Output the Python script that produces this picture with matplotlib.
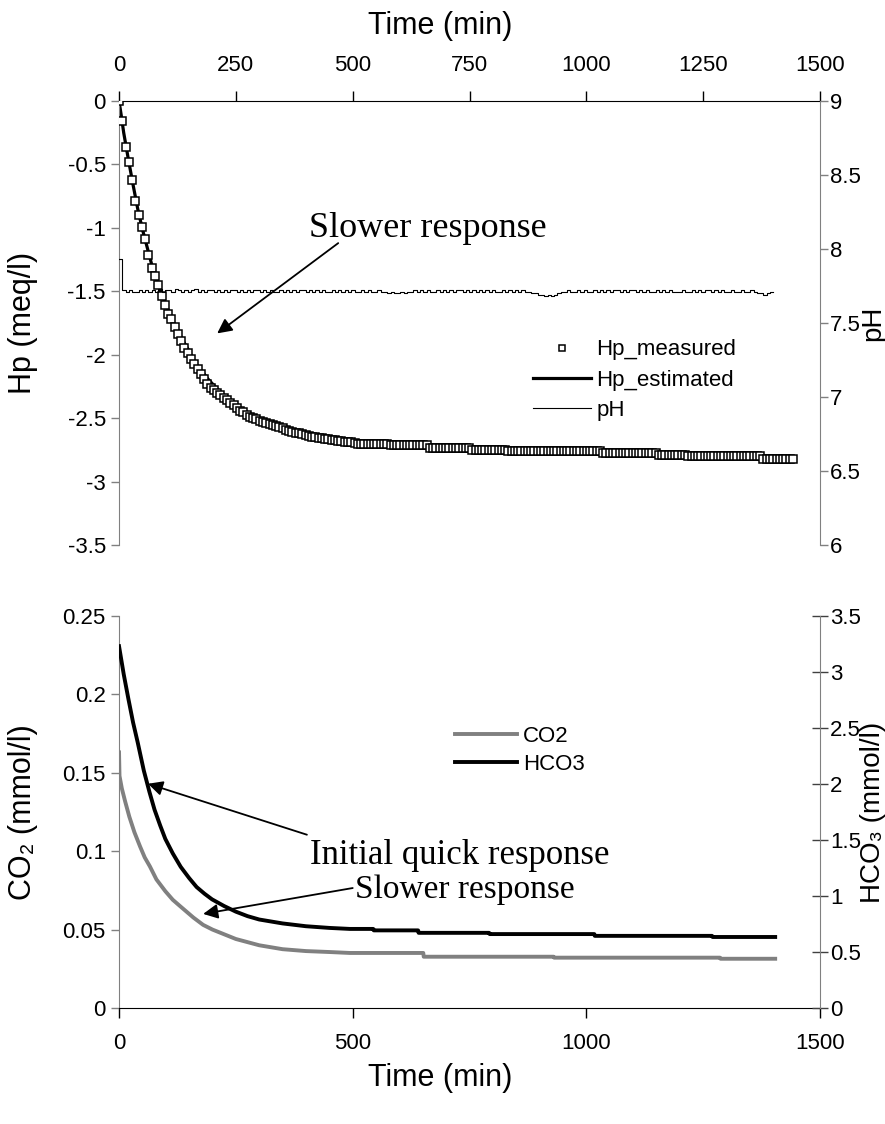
import matplotlib
matplotlib.use('Agg')
import numpy as np
import matplotlib.pyplot as plt
from matplotlib.ticker import FuncFormatter

plt.rcParams['font.family'] = ['Liberation Sans', 'DejaVu Sans']
plt.rcParams['axes.unicode_minus'] = False

# ---- top panel data: measured Hp and pH (same sampling times, min) ----
t_meas = [0, 7, 14, 21, 28, 35, 42, 49, 56, 63,
          70, 77, 84, 91, 98, 105, 112, 119, 126, 133,
          140, 147, 154, 161, 168, 175, 182, 189, 196, 203,
          210, 217, 224, 231, 238, 245, 252, 259, 266, 273,
          280, 287, 294, 301, 308, 315, 322, 329, 336, 343,
          350, 357, 364, 371, 378, 385, 392, 399, 406, 413,
          420, 427, 434, 441, 448, 455, 462, 469, 476, 483,
          490, 497, 504, 511, 518, 525, 532, 539, 546, 553,
          560, 567, 574, 581, 588, 595, 602, 609, 616, 623,
          630, 637, 644, 651, 658, 665, 672, 679, 686, 693,
          700, 707, 714, 721, 728, 735, 742, 749, 756, 763,
          770, 777, 784, 791, 798, 805, 812, 819, 826, 833,
          840, 847, 854, 861, 868, 875, 882, 889, 896, 903,
          910, 917, 924, 931, 938, 945, 952, 959, 966, 973,
          980, 987, 994, 1001, 1008, 1015, 1022, 1029, 1036, 1043,
          1050, 1057, 1064, 1071, 1078, 1085, 1092, 1099, 1106, 1113,
          1120, 1127, 1134, 1141, 1148, 1155, 1162, 1169, 1176, 1183,
          1190, 1197, 1204, 1211, 1218, 1225, 1232, 1239, 1246, 1253,
          1260, 1267, 1274, 1281, 1288, 1295, 1302, 1309, 1316, 1323,
          1330, 1337, 1344, 1351, 1358, 1365, 1372, 1379, 1386, 1393,
          1400, 1407, 1414, 1421, 1428, 1435, 1442]

hp_meas = [0.0, -0.16, -0.36, -0.48, -0.62, -0.79, -0.90, -0.99, -1.09, -1.21,
           -1.32, -1.38, -1.45, -1.535, -1.61, -1.675, -1.72, -1.78, -1.835, -1.895,
           -1.945, -1.99, -2.035, -2.075, -2.115, -2.155, -2.195, -2.23, -2.26, -2.28,
           -2.30, -2.32, -2.34, -2.36, -2.38, -2.40, -2.42, -2.44, -2.455, -2.475,
           -2.49, -2.50, -2.51, -2.52, -2.53, -2.54, -2.545, -2.555, -2.565, -2.57,
           -2.58, -2.59, -2.60, -2.61, -2.615, -2.62, -2.625, -2.63, -2.64, -2.645,
           -2.65, -2.655, -2.66, -2.665, -2.665, -2.67, -2.675, -2.68, -2.68, -2.685,
           -2.69, -2.69, -2.695, -2.70, -2.70, -2.70, -2.705, -2.705, -2.705, -2.705,
           -2.705, -2.705, -2.705, -2.715, -2.715, -2.715, -2.715, -2.715, -2.715, -2.715,
           -2.715, -2.715, -2.715, -2.715, -2.715, -2.735, -2.735, -2.735, -2.735, -2.735,
           -2.735, -2.735, -2.735, -2.735, -2.735, -2.735, -2.735, -2.735, -2.75, -2.75,
           -2.75, -2.75, -2.75, -2.75, -2.75, -2.75, -2.75, -2.75, -2.75, -2.76,
           -2.76, -2.76, -2.76, -2.76, -2.76, -2.76, -2.76, -2.76, -2.76, -2.76,
           -2.76, -2.76, -2.76, -2.76, -2.76, -2.76, -2.76, -2.76, -2.76, -2.76,
           -2.76, -2.76, -2.76, -2.76, -2.76, -2.76, -2.76, -2.76, -2.775, -2.775,
           -2.775, -2.775, -2.775, -2.775, -2.775, -2.775, -2.775, -2.775, -2.775, -2.775,
           -2.775, -2.775, -2.775, -2.775, -2.775, -2.79, -2.79, -2.79, -2.79, -2.79,
           -2.79, -2.79, -2.79, -2.79, -2.80, -2.80, -2.80, -2.80, -2.80, -2.80,
           -2.80, -2.80, -2.80, -2.80, -2.80, -2.80, -2.80, -2.80, -2.80, -2.80,
           -2.80, -2.80, -2.80, -2.80, -2.80, -2.80, -2.80, -2.82, -2.82, -2.82,
           -2.82, -2.82, -2.82, -2.82, -2.82, -2.82, -2.82]

# pH logged up to 1400 min
ph_meas = [7.93, 7.72, 7.71, 7.72, 7.71, 7.71, 7.72, 7.71, 7.72, 7.71,
           7.72, 7.71, 7.73, 7.71, 7.72, 7.72, 7.71, 7.73, 7.72, 7.71,
           7.72, 7.71, 7.72, 7.73, 7.71, 7.72, 7.71, 7.72, 7.72, 7.71,
           7.72, 7.71, 7.72, 7.71, 7.72, 7.72, 7.71, 7.72, 7.71, 7.72,
           7.71, 7.72, 7.72, 7.71, 7.72, 7.71, 7.72, 7.71, 7.71, 7.72,
           7.71, 7.72, 7.71, 7.72, 7.71, 7.72, 7.72, 7.71, 7.72, 7.71,
           7.72, 7.71, 7.72, 7.71, 7.71, 7.72, 7.71, 7.72, 7.71, 7.72,
           7.71, 7.72, 7.71, 7.71, 7.72, 7.71, 7.72, 7.71, 7.71, 7.72,
           7.71, 7.71, 7.70, 7.71, 7.70, 7.70, 7.71, 7.70, 7.71, 7.71,
           7.72, 7.71, 7.72, 7.71, 7.72, 7.71, 7.71, 7.72, 7.71, 7.72,
           7.71, 7.72, 7.71, 7.72, 7.72, 7.71, 7.72, 7.71, 7.72, 7.71,
           7.72, 7.71, 7.72, 7.71, 7.72, 7.71, 7.71, 7.72, 7.71, 7.72,
           7.71, 7.72, 7.71, 7.72, 7.71, 7.71, 7.70, 7.70, 7.69, 7.69,
           7.68, 7.69, 7.68, 7.69, 7.70, 7.71, 7.71, 7.72, 7.71, 7.71,
           7.72, 7.71, 7.72, 7.71, 7.71, 7.72, 7.71, 7.72, 7.71, 7.72,
           7.71, 7.72, 7.72, 7.71, 7.72, 7.71, 7.72, 7.72, 7.71, 7.72,
           7.71, 7.72, 7.71, 7.71, 7.72, 7.71, 7.72, 7.71, 7.72, 7.71,
           7.71, 7.71, 7.72, 7.71, 7.71, 7.72, 7.71, 7.72, 7.71, 7.72,
           7.72, 7.71, 7.72, 7.71, 7.72, 7.71, 7.71, 7.72, 7.71, 7.71,
           7.72, 7.71, 7.71, 7.72, 7.71, 7.70, 7.70, 7.69, 7.70, 7.71,
           7.71]

# estimated Hp (model output)
t_est = [0, 5, 10, 20, 30, 40, 50, 60, 70, 80, 90, 100, 110, 120, 130, 140, 150,
         160, 175, 190, 205, 220, 240, 260, 280, 300, 325, 350, 375, 400, 450,
         500, 550, 600, 700, 800, 900, 1000, 1100, 1200, 1300, 1400, 1442]
hp_est = [0.0, -0.12, -0.25, -0.46, -0.66, -0.85, -1.01, -1.15, -1.29, -1.40, -1.51,
          -1.60, -1.69, -1.77, -1.84, -1.91, -1.97, -2.05, -2.12, -2.19, -2.25,
          -2.305, -2.36, -2.42, -2.465, -2.50, -2.53, -2.56, -2.59, -2.615, -2.65,
          -2.675, -2.695, -2.705, -2.725, -2.745, -2.76, -2.77, -2.78, -2.795,
          -2.81, -2.825, -2.835]

# ---- bottom panel data ----
t_co2 = [0, 1, 6, 13, 22, 33, 45, 55, 66, 80, 99, 115, 132, 159, 180, 200, 225,
         250, 300, 350, 400, 450, 494, 651, 652, 930, 931, 1286, 1287, 1404]
co2 = [0.163, 0.148, 0.140, 0.1318, 0.122, 0.112, 0.103, 0.096, 0.0903, 0.082,
       0.0745, 0.069, 0.0646, 0.0577, 0.053, 0.050, 0.047, 0.044, 0.040, 0.0375,
       0.0363, 0.0357, 0.0351, 0.0351, 0.0327, 0.0327, 0.0321, 0.0321, 0.0314,
       0.0314]

t_hco3 = [0, 10, 20, 30, 40, 53, 65, 76, 88, 99, 115, 132, 150, 166, 183, 199,
          225, 250, 275, 300, 350, 400, 450, 494, 544, 545, 640, 641, 792, 793,
          1017, 1018, 1269, 1270, 1404]
hco3 = [3.23, 2.98, 2.76, 2.55, 2.37, 2.12, 1.93, 1.77, 1.63, 1.51, 1.38, 1.26,
        1.16, 1.08, 1.02, 0.97, 0.91, 0.86, 0.82, 0.79, 0.755, 0.73, 0.715, 0.706,
        0.706, 0.693, 0.693, 0.671, 0.671, 0.660, 0.660, 0.644, 0.644, 0.634,
        0.634]

gray = '#808080'
fmt = FuncFormatter(lambda v, p: f'{v:g}')
tick_fs = 16
label_fs = 22
right_label_fs = 20
serif = ['Liberation Serif', 'DejaVu Serif']

fig = plt.figure(figsize=(8.85, 11.24), dpi=100)

# ================= top panel =================
ax1 = fig.add_axes([0.1345, 0.5151, 0.7921, 0.3950])
ax1.plot(t_est, hp_est, color='black', lw=2.3, zorder=2, label='Hp_estimated')
ax1.plot(t_meas, hp_meas, ls='none', marker='s', ms=6, mfc='white', mec='black',
         mew=1.1, zorder=3, label='Hp_measured')
ax1.set_xlim(0, 1500)
ax1.set_ylim(-3.5, 0)
ax1.set_xticks(np.arange(0, 1501, 250))
ax1.set_yticks(np.arange(-3.5, 0.01, 0.5))
ax1.xaxis.tick_top()
ax1.xaxis.set_label_position('top')
ax1.xaxis.set_major_formatter(fmt)
ax1.yaxis.set_major_formatter(fmt)
ax1.tick_params(axis='x', direction='out', length=7, width=1, labelsize=tick_fs, pad=11)
ax1.tick_params(axis='y', direction='out', length=6, width=1, color=gray, labelsize=tick_fs)
ax1.spines['bottom'].set_visible(False)
ax1.spines['right'].set_visible(False)
ax1.spines['left'].set_color(gray)
ax1.spines['top'].set_color('black')
ax1.set_xlabel('Time (min)', fontsize=label_fs)
ax1.xaxis.set_label_coords(0.458, 1.15)
ax1.set_ylabel('Hp (meq/l)', fontsize=label_fs)
ax1.yaxis.set_label_coords(-0.115, 0.5)

ax1b = ax1.twinx()
ax1b.plot(t_meas[:len(ph_meas)], ph_meas, color='black', lw=0.8,
          drawstyle='steps-post', label='pH')
ax1b.set_ylim(6, 9)
ax1b.set_yticks(np.arange(6, 9.01, 0.5))
ax1b.yaxis.set_major_formatter(fmt)
ax1b.tick_params(axis='y', direction='out', length=6, width=1, color=gray,
                 labelsize=tick_fs, pad=1)
for s in ['top', 'bottom', 'left']:
    ax1b.spines[s].set_visible(False)
ax1b.spines['right'].set_color(gray)
ax1b.set_ylabel('pH', fontsize=right_label_fs)
ax1b.yaxis.set_label_coords(1.057, 0.5)

h1, l1 = ax1.get_legend_handles_labels()
h2, l2 = ax1b.get_legend_handles_labels()
handles = [h1[1], h1[0], h2[0]]
labels = [l1[1], l1[0], l2[0]]
ax1b.legend(handles, labels, loc='upper left', bbox_to_anchor=(0.602, 0.698),
            bbox_transform=fig.transFigure, frameon=False, fontsize=16,
            handlelength=2.6, handletextpad=0.25, labelspacing=0.42,
            borderpad=0, borderaxespad=0, markerscale=0.7)

# annotation (pH units on this axis)
ax1b.text(661, 8.14, 'Slower response', ha='center', va='center',
          family=serif, size=26)
ax1b.annotate('', xy=(210, 7.43), xytext=(469, 8.04),
              arrowprops=dict(arrowstyle='-|>', color='black', lw=1.3,
                              mutation_scale=22, shrinkA=0, shrinkB=0))

# ================= bottom panel =================
ax2 = fig.add_axes([0.1345, 0.1032, 0.7921, 0.3488])
ax2.plot(t_co2, co2, color=gray, lw=2.8, label='CO2')
ax2.set_xlim(0, 1500)
ax2.set_ylim(0, 0.25)
ax2.set_xticks(np.arange(0, 1501, 500))
ax2.set_yticks(np.arange(0, 0.251, 0.05))
ax2.xaxis.set_major_formatter(fmt)
ax2.yaxis.set_major_formatter(fmt)
ax2.tick_params(axis='x', direction='out', length=7, width=1, labelsize=tick_fs, pad=11)
ax2.tick_params(axis='y', direction='out', length=6, width=1, color=gray, labelsize=tick_fs)
ax2.spines['top'].set_visible(False)
ax2.spines['right'].set_visible(False)
ax2.spines['left'].set_color(gray)
ax2.spines['bottom'].set_color('black')
ax2.set_xlabel('Time (min)', fontsize=label_fs)
ax2.xaxis.set_label_coords(0.458, -0.14)
ax2.set_ylabel('CO₂ (mmol/l)', fontsize=label_fs)
ax2.yaxis.set_label_coords(-0.115, 0.5)

ax2b = ax2.twinx()
ax2b.plot(t_hco3, hco3, color='black', lw=2.8, label='HCO3')
ax2b.set_ylim(0, 3.5)
ax2b.set_yticks(np.arange(0, 3.51, 0.5))
ax2b.yaxis.set_major_formatter(fmt)
ax2b.tick_params(axis='y', direction='inout', length=12, width=1, color='#404040',
                 labelsize=tick_fs, pad=1)
for s in ['top', 'bottom', 'left']:
    ax2b.spines[s].set_visible(False)
ax2b.spines['right'].set_color(gray)
ax2b.set_ylabel('HCO₃ (mmol/l)', fontsize=right_label_fs)
ax2b.yaxis.set_label_coords(1.057, 0.5)

h3, l3 = ax2.get_legend_handles_labels()
h4, l4 = ax2b.get_legend_handles_labels()
ax2b.legend(h3 + h4, l3 + l4, loc='upper left', bbox_to_anchor=(0.514, 0.354),
            bbox_transform=fig.transFigure, frameon=False, fontsize=16,
            handlelength=2.8, handletextpad=0.25, labelspacing=0.3,
            borderpad=0, borderaxespad=0)

# annotations (CO2 units)
ax2.text(408, 0.0975, 'Initial quick response', ha='left', va='center',
         family=serif, size=25)
ax2.annotate('', xy=(62, 0.143), xytext=(402, 0.1105),
             arrowprops=dict(arrowstyle='-|>', color='black', lw=1.3,
                             mutation_scale=22, shrinkA=0, shrinkB=0))
ax2.text(505, 0.0755, 'Slower response', ha='left', va='center',
         family=serif, size=24)
ax2.annotate('', xy=(180, 0.060), xytext=(500, 0.0765),
             arrowprops=dict(arrowstyle='-|>', color='black', lw=1.3,
                             mutation_scale=22, shrinkA=0, shrinkB=0))

fig.savefig('out.png', dpi=100)
